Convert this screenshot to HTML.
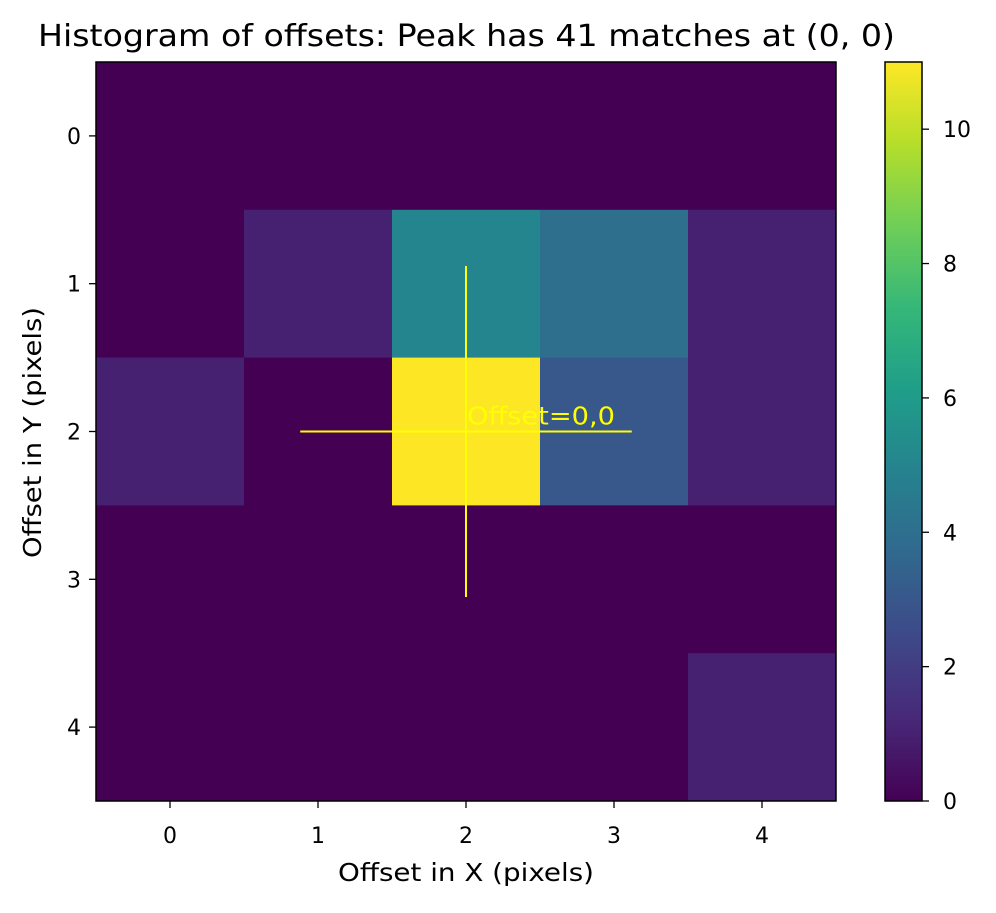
<!DOCTYPE html>
<html><head><meta charset="utf-8"><style>
html,body{margin:0;padding:0;background:#fff;}
svg text{font-family:"DejaVu Sans","Liberation Sans",sans-serif;}
</style></head><body>
<svg id="chart" width="996" height="908" xmlns="http://www.w3.org/2000/svg">
<text x="38" y="46" font-size="30" textLength="857" lengthAdjust="spacingAndGlyphs" fill="#000">Histogram of offsets: Peak has 41 matches at (0, 0)</text>
<g id="cells"></g>
<g id="overlay"></g>
<rect x="96" y="62" width="740" height="739" fill="none" stroke="#000" stroke-width="1.5"/>
<g id="xticks"></g>
<g id="yticks"></g>
<text x="338" y="881" font-size="25" textLength="256" lengthAdjust="spacingAndGlyphs">Offset in X (pixels)</text>
<text x="-558" y="41" font-size="25" textLength="251" lengthAdjust="spacingAndGlyphs" transform="rotate(-90)">Offset in Y (pixels)</text>
<defs><linearGradient id="cbg" x1="0" y1="1" x2="0" y2="0"></linearGradient></defs>
<rect x="885" y="62" width="37" height="739" fill="url(#cbg)" stroke="#000" stroke-width="1.5"/>
<g id="cbticks"></g>
</svg>
<script>
const xCategories = [0,1,2,3,4];
const yCategories = [0,1,2,3,4];
const row0 = [0,0,0,0,0];
const row1 = [0,1,5,4,1];
const row2 = [1,0,11,3,1];
const row3 = [0,0,0,0,0];
const row4 = [0,0,0,0,1];
const colorMax = 11;
const colorbarTicks = [0,2,4,6,8,10];
const peakX = 2, peakY = 2;
const markerLabel = "Offset=0,0";

const NS="http://www.w3.org/2000/svg";
const stops=["#440154","#482878","#3e4989","#31688e","#26828e","#1f9e89","#35b779","#6ece58","#b5de2b","#fde725"];
function hex(h){return [1,3,5].map(i=>parseInt(h.substr(i,2),16));}
function viridis(t){t=Math.max(0,Math.min(1,t));const f=t*(stops.length-1);const i=Math.min(stops.length-2,Math.floor(f));const r=f-i;const a=hex(stops[i]),b=hex(stops[i+1]);return "rgb("+a.map((v,k)=>Math.round(v+(b[k]-v)*r)).join(",")+")";}
const X0=96,X1=836,Y0=62,Y1=801;
const cw=(X1-X0)/xCategories.length, ch=(Y1-Y0)/yCategories.length;
function xs(v){return X0+(v+0.5)*cw;}
function ys(v){return Y0+(v+0.5)*ch;}
function mk(tag,attrs,parent){const e=document.createElementNS(NS,tag);for(const k in attrs)e.setAttribute(k,attrs[k]);parent.appendChild(e);return e;}
const rows=[row0,row1,row2,row3,row4];
const cells=document.getElementById('cells');
rows.forEach((row,r)=>row.forEach((v,c)=>{
  const e=mk('rect',{x:xs(c)-cw/2,y:ys(r)-ch/2,width:cw+0.5,height:ch+0.5,fill:viridis(v/colorMax)},cells);
  
  
}));
const ov=document.getElementById('overlay');
const cx=xs(peakX), cy=ys(peakY), ext=1.12;
let l1=mk('line',{x1:cx,y1:ys(peakY-ext),x2:cx,y2:ys(peakY+ext),stroke:"#ffff00","stroke-width":2},ov);


let l2=mk('line',{x1:xs(peakX-ext),y1:cy,x2:xs(peakX+ext),y2:cy,stroke:"#ffff00","stroke-width":2},ov);


let t=mk('text',{x:cx+1,y:cy-7,"font-size":25,fill:"#ffff00",textLength:148,lengthAdjust:"spacingAndGlyphs"},ov);t.textContent=markerLabel;


const xt=document.getElementById('xticks');
xCategories.forEach((v,i)=>{
  const tk=mk('line',{x1:xs(i),y1:Y1,x2:xs(i),y2:Y1+7,stroke:"#000","stroke-width":1.3},xt);
  
  
  const tx=mk('text',{x:xs(i),y:Y1+42,"font-size":22,"text-anchor":"middle"},xt);tx.textContent=v;
  
  
});
const yt=document.getElementById('yticks');
yCategories.forEach((v,i)=>{
  const tk=mk('line',{x1:X0-7,y1:ys(i),x2:X0,y2:ys(i),stroke:"#000","stroke-width":1.3},yt);
  
  
  const tx=mk('text',{x:X0-15,y:ys(i)+8,"font-size":22,"text-anchor":"end"},yt);tx.textContent=v;
  
  
});
const g=document.getElementById('cbg');
stops.forEach((s,i)=>mk('stop',{offset:(i/(stops.length-1)),"stop-color":s},g));
const cb=document.getElementById('cbticks');
function cbY(v){return Y1-(v/colorMax)*(Y1-Y0);}
colorbarTicks.forEach(v=>{
  const tk=mk('line',{x1:922,y1:cbY(v),x2:929,y2:cbY(v),stroke:"#000","stroke-width":1.3},cb);
  
  
  const tx=mk('text',{x:943,y:cbY(v)+8,"font-size":22},cb);tx.textContent=v;
  
  
});
</script>
</body></html>
